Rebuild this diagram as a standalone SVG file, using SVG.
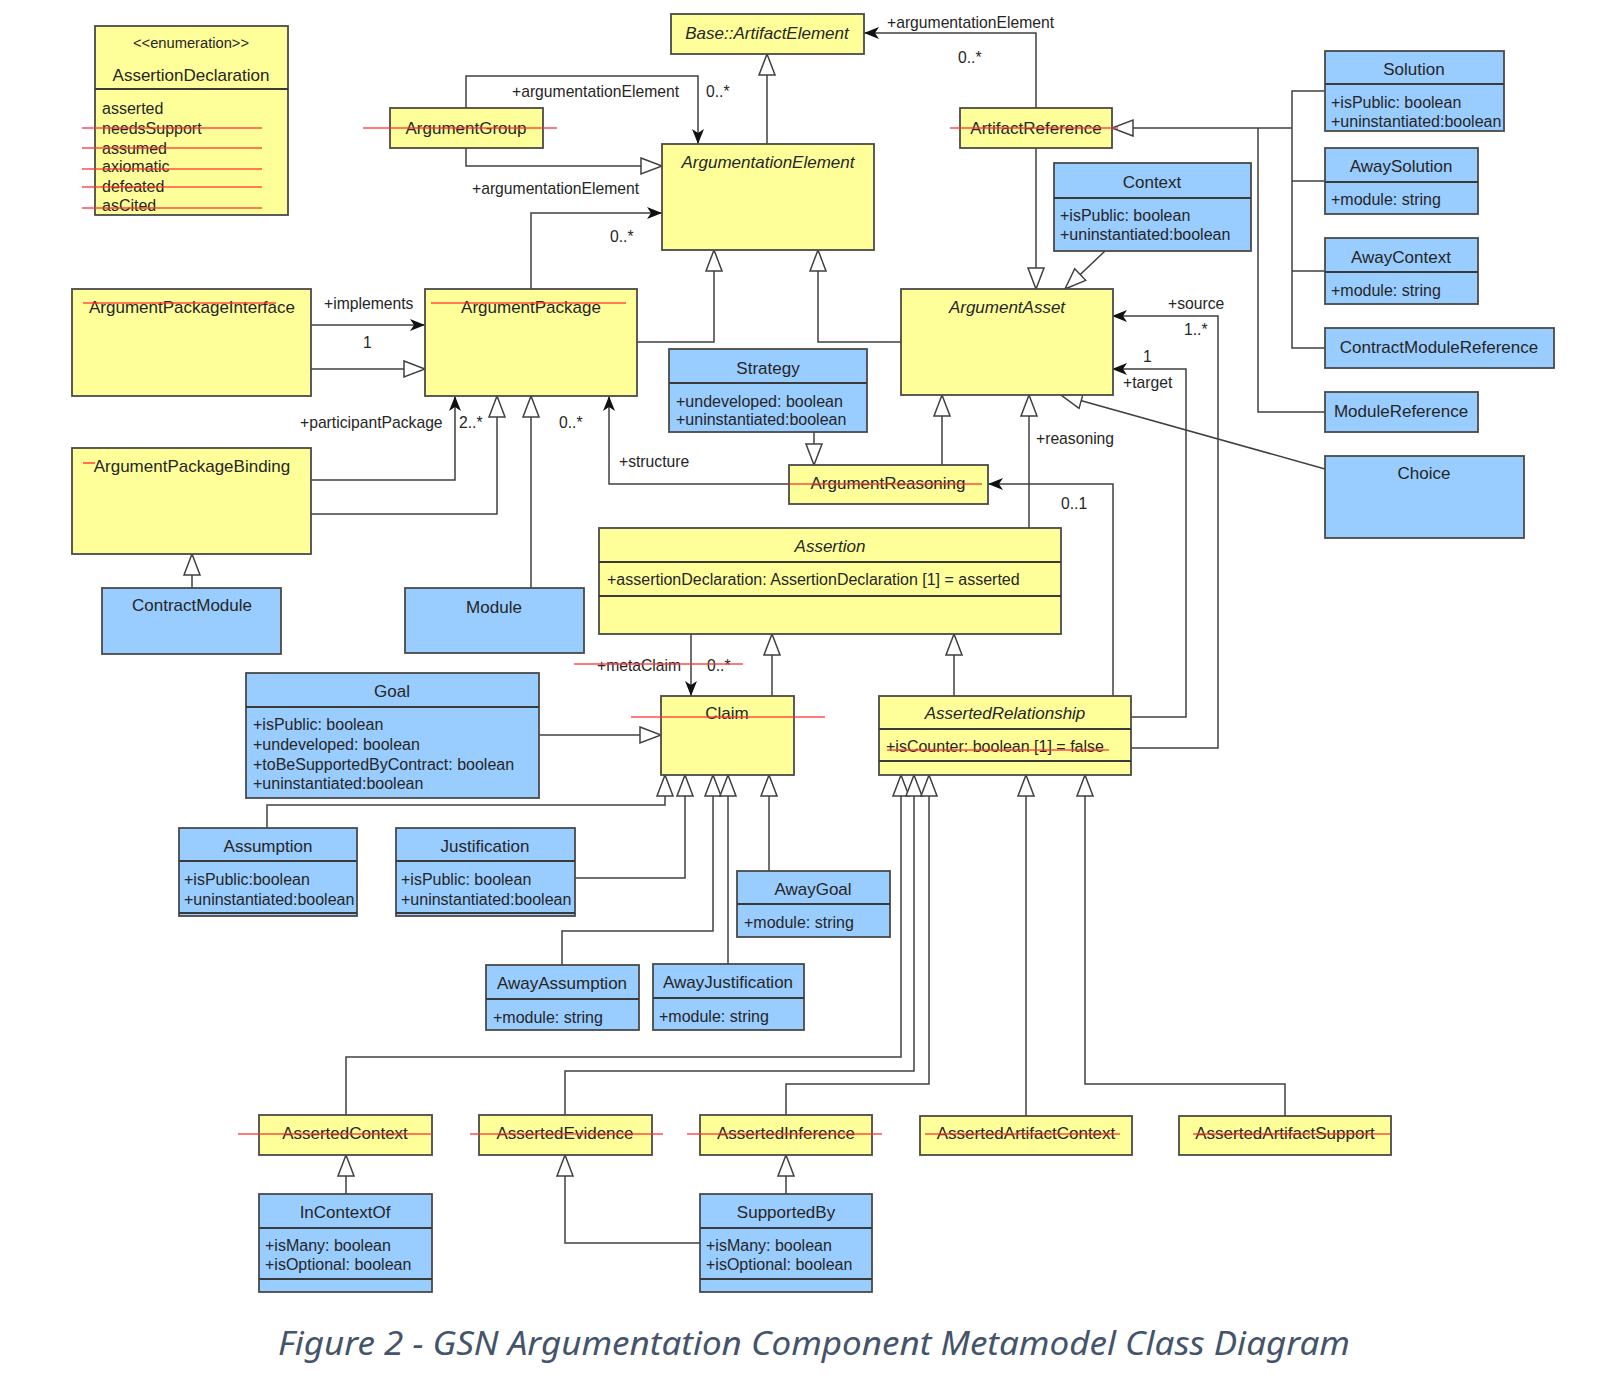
<svg xmlns="http://www.w3.org/2000/svg" width="1606" height="1381" viewBox="0 0 1606 1381">
<style>
.y{fill:#FFFF99;stroke:#4a4a4a;stroke-width:1.8}
.b{fill:#99CCFF;stroke:#4a4a4a;stroke-width:1.8}
.d{stroke:#3a3a3a;stroke-width:1.8;fill:none}
.t{font-family:"Liberation Sans",Arial,sans-serif;fill:#262626}
.n{font-size:17px;text-anchor:middle}
.i{font-style:italic}
.a{font-size:16px}
.l{font-family:"Liberation Sans",Arial,sans-serif;font-size:15.7px;fill:#262626}
.s{stroke:#FF3030;stroke-width:1.6;stroke-opacity:0.85;fill:none}
.c{fill:none;stroke:#404040;stroke-width:1.5}
.g{marker-end:url(#gen)}
.r{marker-end:url(#arr)}
</style>
<defs>
<marker id="gen" markerUnits="userSpaceOnUse" viewBox="0 0 24 20" markerWidth="24" markerHeight="20" refX="22" refY="9" orient="auto">
<path d="M1,1 L22,9 L1,17 Z" fill="#ffffff" stroke="#404040" stroke-width="1.5"/>
</marker>
<marker id="arr" markerUnits="userSpaceOnUse" viewBox="0 0 16 14" markerWidth="16" markerHeight="14" refX="15" refY="7" orient="auto">
<path d="M0,1 L15,7 L0,13 L4,7 Z" fill="#111111"/>
</marker>
</defs>
<rect width="1606" height="1381" fill="#ffffff"/>

<g id="connectors">
<path class="c g" d="M767,144 V54"/>
<path class="c g" d="M466,148 V166 H662"/>
<path class="c g" d="M637,342 H714 V250"/>
<path class="c g" d="M901,342 H818 V250"/>
<path class="c g" d="M1036,148 V289"/>
<path class="c g" d="M1105,251 L1065,289"/>
<path class="c" d="M1325,91 H1292 V348 H1325 M1292,181 H1325 M1292,271 H1325 M1325,412 H1258 V128"/>
<path class="c g" d="M1292,128 H1112"/>
<path class="c g" d="M1325,469 L1061,395"/>
<path class="c g" d="M311,369 H425"/>
<path class="c g" d="M311,514 H497 V396"/>
<path class="c g" d="M531,588 V396"/>
<path class="c g" d="M192,588 V554"/>
<path class="c g" d="M814,432 V465"/>
<path class="c g" d="M942,465 V395"/>
<path class="c g" d="M1029,528 V395"/>
<path class="c g" d="M772,696 V634"/>
<path class="c g" d="M954,696 V634"/>
<path class="c g" d="M539,735 H661"/>
<path class="c g" d="M267,828 V805 H665 V775"/>
<path class="c g" d="M575,878 H685 V775"/>
<path class="c g" d="M562,965 V931 H713 V775"/>
<path class="c g" d="M728,964 V775"/>
<path class="c g" d="M769,871 V775"/>
<path class="c g" d="M346,1115 V1057 H901 V775"/>
<path class="c g" d="M565,1115 V1071 H914 V775"/>
<path class="c g" d="M786,1115 V1084 H929 V775"/>
<path class="c g" d="M1026,1116 V775"/>
<path class="c g" d="M1285,1116 V1084 H1085 V775"/>
<path class="c g" d="M346,1194 V1155"/>
<path class="c g" d="M786,1194 V1155"/>
<path class="c g" d="M700,1243 H565 V1155"/>

<path class="c r" d="M466,108 V76 H698 V144"/>
<path class="c r" d="M531,289 V213 H662"/>
<path class="c r" d="M1036,108 V33 H864"/>
<path class="c r" d="M311,325 H425"/>
<path class="c r" d="M311,480 H455 V396"/>
<path class="c r" d="M789,484 H609 V396"/>
<path class="c r" d="M1113,696 V484 H988"/>
<path class="c r" d="M1131,717 H1186 V369 H1112"/>
<path class="c r" d="M1131,748 H1218 V316 H1112"/>
<path class="c r" d="M691,634 V696"/>

<text class="l" x="512" y="97">+argumentationElement</text>
<text class="l" x="706" y="97">0..*</text>
<text class="l" x="472" y="194">+argumentationElement</text>
<text class="l" x="610" y="242">0..*</text>
<text class="l" x="887" y="28">+argumentationElement</text>
<text class="l" x="958" y="63">0..*</text>
<text class="l" x="324" y="309">+implements</text>
<text class="l" x="363" y="348">1</text>
<text class="l" x="300" y="428">+participantPackage</text>
<text class="l" x="459" y="428">2..*</text>
<text class="l" x="559" y="428">0..*</text>
<text class="l" x="619" y="467">+structure</text>
<text class="l" x="1036" y="444">+reasoning</text>
<text class="l" x="1061" y="509">0..1</text>
<text class="l" x="1168" y="309">+source</text>
<text class="l" x="1184" y="335">1..*</text>
<text class="l" x="1143" y="362">1</text>
<text class="l" x="1123" y="388">+target</text>
<text class="l" x="597" y="671">+metaClaim</text>
<text class="l" x="707" y="671">0..*</text>
<path class="s" d="M574,664 H743"/>
</g>

<g id="AssertionDeclaration">
<rect class="y" x="95" y="26" width="193" height="189"/>
<path class="d" d="M95,89 H288"/>
<text class="t" x="191" y="48" text-anchor="middle" font-size="14.7">&lt;&lt;enumeration&gt;&gt;</text>
<text class="t n" x="191" y="81">AssertionDeclaration</text>
<text class="t a" x="102" y="113.5">asserted</text>
<text class="t a" x="102" y="133.5">needsSupport</text>
<text class="t a" x="102" y="153.5">assumed</text>
<text class="t a" x="102" y="171.5">axiomatic</text>
<text class="t a" x="102" y="191.5">defeated</text>
<text class="t a" x="102" y="210.5">asCited</text>
<path class="s" d="M82,128 H262 M82,148 H262 M82,169 H262 M82,187 H262 M82,208 H262"/>
</g>

<g id="BaseArtifactElement">
<rect class="y" x="671" y="14" width="193" height="40"/>
<text class="t n i" x="767" y="39">Base::ArtifactElement</text>
</g>

<g id="ArgumentGroup">
<rect class="y" x="390" y="108" width="153" height="40"/>
<text class="t n" x="466" y="134">ArgumentGroup</text>
<path class="s" d="M363,128 H557"/>
</g>

<g id="ArgumentationElement">
<rect class="y" x="662" y="144" width="212" height="106"/>
<text class="t n i" x="768" y="168">ArgumentationElement</text>
</g>

<g id="ArtifactReference">
<rect class="y" x="960" y="108" width="152" height="40"/>
<text class="t n" x="1036" y="134">ArtifactReference</text>
<path class="s" d="M950,128 H1118"/>
</g>

<g id="Solution">
<rect class="b" x="1325" y="51" width="179" height="80"/>
<path class="d" d="M1325,84 H1504"/>
<text class="t n" x="1414" y="75">Solution</text>
<text class="t a" x="1331" y="108">+isPublic: boolean</text>
<text class="t a" x="1331" y="127">+uninstantiated:boolean</text>
</g>

<g id="AwaySolution">
<rect class="b" x="1325" y="148" width="153" height="66"/>
<path class="d" d="M1325,182 H1478"/>
<text class="t n" x="1401" y="172">AwaySolution</text>
<text class="t a" x="1331" y="205">+module: string</text>
</g>

<g id="AwayContext">
<rect class="b" x="1325" y="238" width="153" height="66"/>
<path class="d" d="M1325,272 H1478"/>
<text class="t n" x="1401" y="263">AwayContext</text>
<text class="t a" x="1331" y="296">+module: string</text>
</g>

<g id="ContractModuleReference">
<rect class="b" x="1325" y="328" width="229" height="40"/>
<text class="t n" x="1439" y="353">ContractModuleReference</text>
</g>

<g id="ModuleReference">
<rect class="b" x="1325" y="392" width="153" height="40"/>
<text class="t n" x="1401" y="417">ModuleReference</text>
</g>

<g id="Choice">
<rect class="b" x="1325" y="456" width="199" height="82"/>
<text class="t n" x="1424" y="479">Choice</text>
</g>

<g id="Context">
<rect class="b" x="1054" y="163" width="197" height="88"/>
<path class="d" d="M1054,198 H1251"/>
<text class="t n" x="1152" y="188">Context</text>
<text class="t a" x="1060" y="221">+isPublic: boolean</text>
<text class="t a" x="1060" y="240">+uninstantiated:boolean</text>
</g>

<g id="ArgumentAsset">
<rect class="y" x="901" y="289" width="212" height="106"/>
<text class="t n i" x="1007" y="313">ArgumentAsset</text>
</g>

<g id="ArgumentPackageInterface">
<rect class="y" x="72" y="289" width="239" height="107"/>
<text class="t n" x="192" y="313">ArgumentPackageInterface</text>
<path class="s" d="M83,303 H276"/>
</g>

<g id="ArgumentPackage">
<rect class="y" x="425" y="289" width="212" height="107"/>
<text class="t n" x="531" y="313">ArgumentPackage</text>
<path class="s" d="M431,303 H626"/>
</g>

<g id="ArgumentPackageBinding">
<rect class="y" x="72" y="448" width="239" height="106"/>
<text class="t n" x="192" y="472">ArgumentPackageBinding</text>
<path class="s" d="M83,463 H95"/>
</g>

<g id="ContractModule">
<rect class="b" x="102" y="588" width="179" height="66"/>
<text class="t n" x="192" y="611">ContractModule</text>
</g>

<g id="Module">
<rect class="b" x="405" y="588" width="179" height="65"/>
<text class="t n" x="494" y="613">Module</text>
</g>

<g id="Strategy">
<rect class="b" x="669" y="349" width="198" height="83"/>
<path class="d" d="M669,383 H867"/>
<text class="t n" x="768" y="374">Strategy</text>
<text class="t a" x="676" y="407">+undeveloped: boolean</text>
<text class="t a" x="676" y="425">+uninstantiated:boolean</text>
</g>

<g id="ArgumentReasoning">
<rect class="y" x="789" y="465" width="199" height="39"/>
<text class="t n" x="888" y="489">ArgumentReasoning</text>
<path class="s" d="M789,484 H982"/>
</g>

<g id="Assertion">
<rect class="y" x="599" y="528" width="462" height="106"/>
<path class="d" d="M599,562 H1061 M599,596 H1061"/>
<text class="t n i" x="830" y="552">Assertion</text>
<text class="t a" x="607" y="585">+assertionDeclaration: AssertionDeclaration [1] = asserted</text>
</g>

<g id="Goal">
<rect class="b" x="246" y="673" width="293" height="125"/>
<path class="d" d="M246,707 H539"/>
<text class="t n" x="392" y="697">Goal</text>
<text class="t a" x="253" y="730">+isPublic: boolean</text>
<text class="t a" x="253" y="750">+undeveloped: boolean</text>
<text class="t a" x="253" y="769.5">+toBeSupportedByContract: boolean</text>
<text class="t a" x="253" y="789">+uninstantiated:boolean</text>
</g>

<g id="Claim">
<rect class="y" x="661" y="696" width="133" height="79"/>
<text class="t n" x="727" y="719">Claim</text>
<path class="s" d="M631,717 H825"/>
</g>

<g id="AssertedRelationship">
<rect class="y" x="879" y="696" width="252" height="79"/>
<path class="d" d="M879,729 H1131 M879,761 H1131"/>
<text class="t n i" x="1005" y="719">AssertedRelationship</text>
<text class="t a" x="886" y="752">+isCounter: boolean [1] = false</text>
<path class="s" d="M887,750 H1109"/>
</g>

<g id="Assumption">
<rect class="b" x="179" y="828" width="178" height="88"/>
<path class="d" d="M179,861 H357 M179,913 H357"/>
<text class="t n" x="268" y="852">Assumption</text>
<text class="t a" x="184" y="885">+isPublic:boolean</text>
<text class="t a" x="184" y="905">+uninstantiated:boolean</text>
</g>

<g id="Justification">
<rect class="b" x="396" y="828" width="179" height="88"/>
<path class="d" d="M396,861 H575 M396,913 H575"/>
<text class="t n" x="485" y="852">Justification</text>
<text class="t a" x="401" y="885">+isPublic: boolean</text>
<text class="t a" x="401" y="905">+uninstantiated:boolean</text>
</g>

<g id="AwayGoal">
<rect class="b" x="737" y="871" width="153" height="66"/>
<path class="d" d="M737,904 H890"/>
<text class="t n" x="813" y="895">AwayGoal</text>
<text class="t a" x="744" y="928">+module: string</text>
</g>

<g id="AwayAssumption">
<rect class="b" x="486" y="965" width="153" height="65"/>
<path class="d" d="M486,999 H639"/>
<text class="t n" x="562" y="989">AwayAssumption</text>
<text class="t a" x="493" y="1023">+module: string</text>
</g>

<g id="AwayJustification">
<rect class="b" x="653" y="964" width="151" height="66"/>
<path class="d" d="M653,998 H804"/>
<text class="t n" x="728" y="988">AwayJustification</text>
<text class="t a" x="659" y="1022">+module: string</text>
</g>

<g id="AssertedContext">
<rect class="y" x="259" y="1115" width="173" height="40"/>
<text class="t n" x="345" y="1139">AssertedContext</text>
<path class="s" d="M238,1134 H432"/>
</g>

<g id="AssertedEvidence">
<rect class="y" x="479" y="1115" width="173" height="40"/>
<text class="t n" x="565" y="1139">AssertedEvidence</text>
<path class="s" d="M470,1134 H663"/>
</g>

<g id="AssertedInference">
<rect class="y" x="700" y="1115" width="172" height="40"/>
<text class="t n" x="786" y="1139">AssertedInference</text>
<path class="s" d="M687,1134 H882"/>
</g>

<g id="AssertedArtifactContext">
<rect class="y" x="920" y="1116" width="212" height="39"/>
<text class="t n" x="1026" y="1139">AssertedArtifactContext</text>
<path class="s" d="M925,1134 H1120"/>
</g>

<g id="AssertedArtifactSupport">
<rect class="y" x="1179" y="1116" width="212" height="39"/>
<text class="t n" x="1285" y="1139">AssertedArtifactSupport</text>
<path class="s" d="M1193,1134 H1390"/>
</g>

<g id="InContextOf">
<rect class="b" x="259" y="1194" width="173" height="98"/>
<path class="d" d="M259,1228 H432 M259,1279 H432"/>
<text class="t n" x="345" y="1218">InContextOf</text>
<text class="t a" x="265" y="1251">+isMany: boolean</text>
<text class="t a" x="265" y="1270">+isOptional: boolean</text>
</g>

<g id="SupportedBy">
<rect class="b" x="700" y="1194" width="172" height="98"/>
<path class="d" d="M700,1228 H872 M700,1279 H872"/>
<text class="t n" x="786" y="1218">SupportedBy</text>
<text class="t a" x="706" y="1251">+isMany: boolean</text>
<text class="t a" x="706" y="1270">+isOptional: boolean</text>
</g>

<text x="278" y="1355" font-family="'Noto Sans','Open Sans',sans-serif" font-style="italic" font-size="33" fill="#44546A" textLength="1072" lengthAdjust="spacingAndGlyphs">Figure 2 - GSN Argumentation Component Metamodel Class Diagram</text>
</svg>
